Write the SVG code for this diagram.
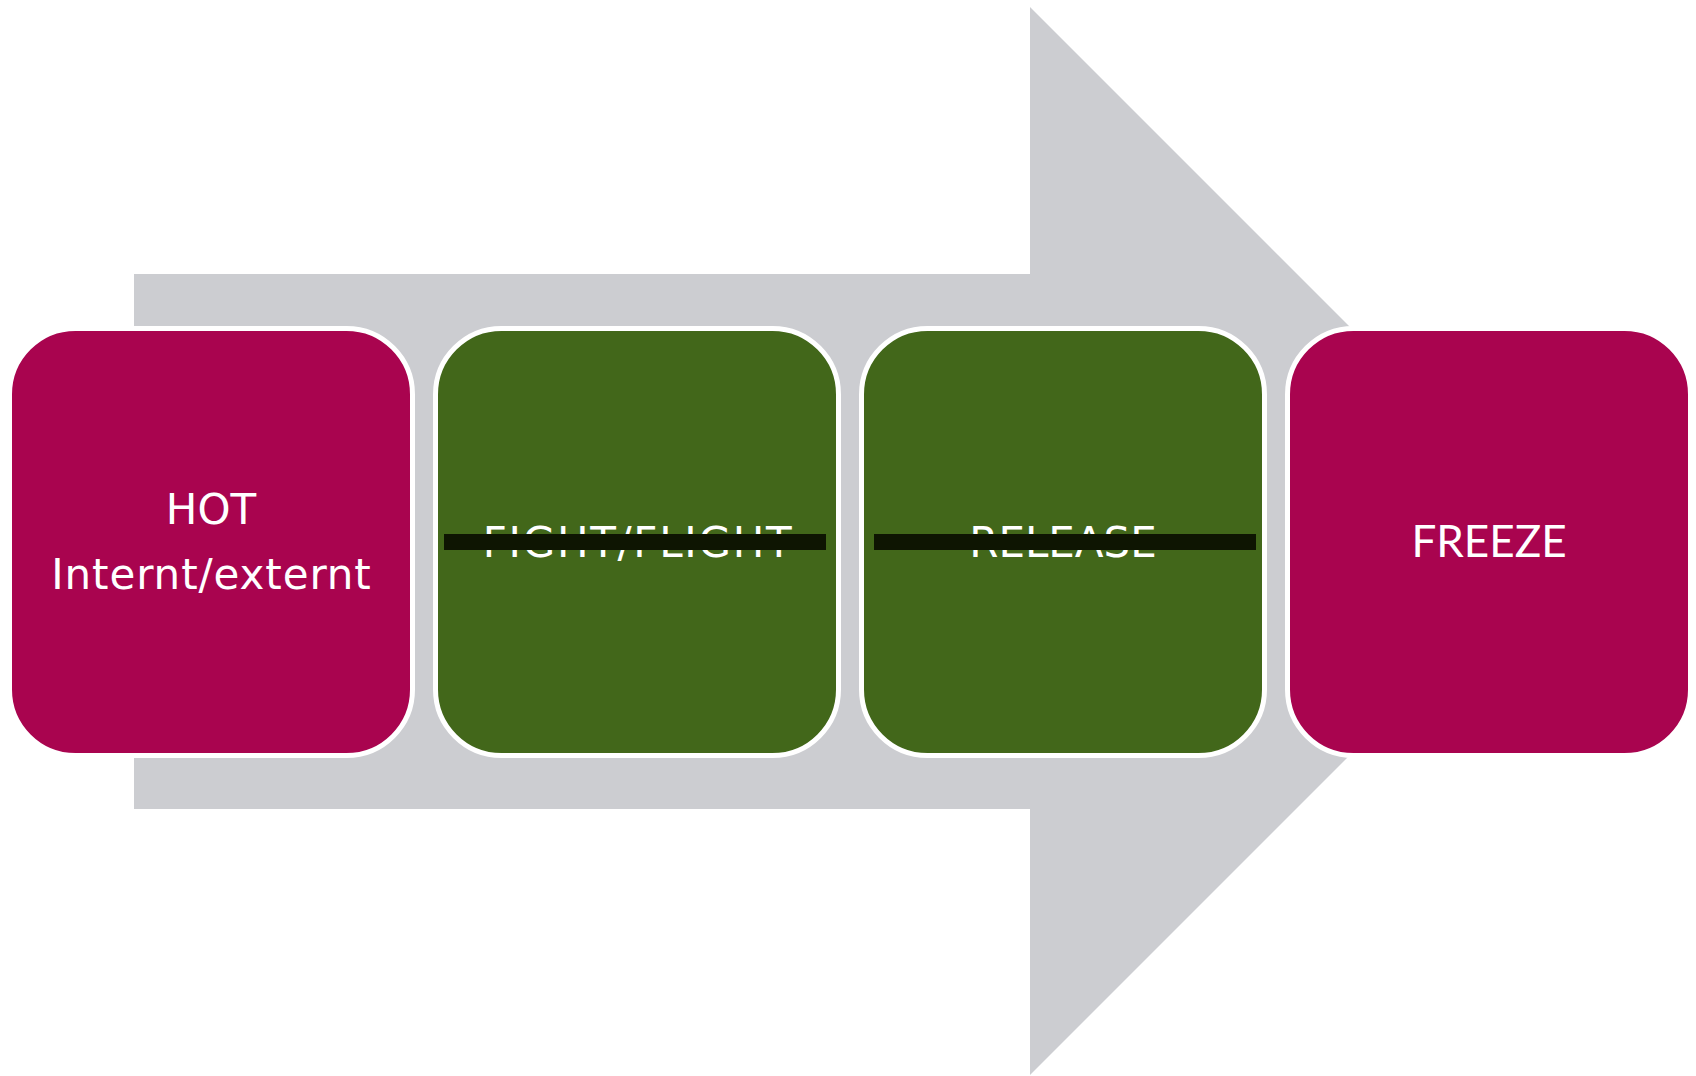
<svg xmlns="http://www.w3.org/2000/svg" width="1696" height="1076" viewBox="0 0 1696 1076">
  <style>
    .box { stroke: #FFFFFF; stroke-width: 5; }
    .mag { fill: #A9044F; }
    .grn { fill: #42671A; }
    .lbl { fill: #FFFFFF; font-family: "DejaVu Sans", Verdana, sans-serif; font-size: 42px; text-anchor: middle; }
    .lbl2 { fill: #FFFFFF; font-family: Lato, "Open Sans", sans-serif; font-size: 44px; text-anchor: middle; }
    .bar { fill: #0E1502; }
  </style>
  <rect width="1696" height="1076" fill="#FFFFFF"/>
  <g id="arrow">
    <path d="M134,274 L1030,274 L1030,7 L1564,541 L1030,1075 L1030,809 L134,809 Z" fill="#CCCDD1"/>
  </g>
  <g id="connectors"></g>
  <g id="node-hot">
    <rect class="box mag" x="9.5" y="328.5" width="403" height="427" rx="66" ry="66"/>
    <text class="lbl" x="211" y="524">HOT</text>
    <text class="lbl" x="211.5" y="589" letter-spacing="0.9">Internt/externt</text>
  </g>
  <g id="node-fight">
    <rect class="box grn" x="435.5" y="328.5" width="403" height="427" rx="66" ry="66"/>
    <text class="lbl" x="638" y="556.5" letter-spacing="1.7">FIGHT/FLIGHT</text>
    <rect class="bar" x="444" y="534" width="382" height="16"/>
  </g>
  <g id="node-release">
    <rect class="box grn" x="861.5" y="328.5" width="403" height="427" rx="66" ry="66"/>
    <text class="lbl" x="1063" y="556.5">RELEASE</text>
    <rect class="bar" x="874" y="534" width="382" height="16"/>
  </g>
  <g id="node-freeze">
    <rect class="box mag" x="1287.5" y="328.5" width="403" height="427" rx="66" ry="66"/>
    <text class="lbl2" x="1489" y="556.5">FREEZE</text>
  </g>
</svg>
